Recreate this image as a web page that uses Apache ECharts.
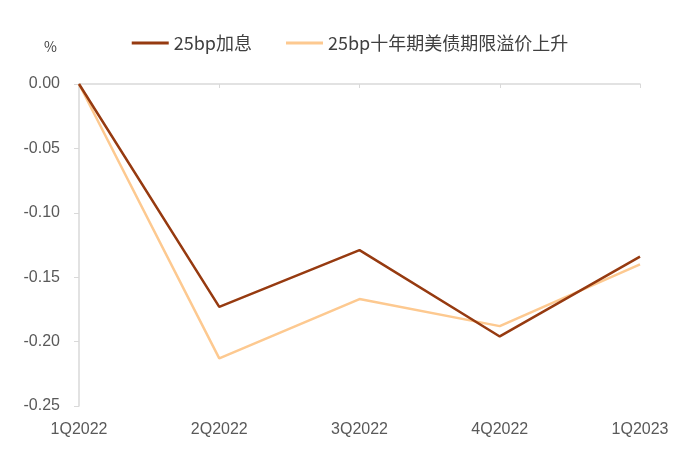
<!DOCTYPE html>
<html><head><meta charset="utf-8">
<script src="https://cdn.jsdelivr.net/npm/echarts@6/dist/echarts.min.js"></script>
<style>html,body{margin:0;padding:0;background:#fff}#c{width:700px;height:471px}</style>
</head><body><div id="c"></div>
<script>
const categories = ['1Q2022','2Q2022','3Q2022','4Q2022','1Q2023'];
const seriesNames = ['25bp加息','25bp十年期美债期限溢价上升'];
const hikeValues = [0, -0.173, -0.129, -0.196, -0.134];
const termPremiumValues = [0, -0.213, -0.167, -0.188, -0.140];

const chart = echarts.init(document.getElementById('c'));
const font = '"Noto Sans CJK SC", "Liberation Sans", Arial, sans-serif';
const latin = '"Liberation Sans", Arial, sans-serif';
chart.setOption({
  animation: false,
  textStyle: { fontFamily: font },
  legend: {
    top: 29, left: 'center',
    itemWidth: 37, itemHeight: 3, itemGap: 34,
    icon: 'rect',
    textStyle: { fontSize: 18, color: '#404040', fontFamily: font },
    data: seriesNames
  },
  grid: { left: 79, right: 60, top: 84, bottom: 65 },
  xAxis: [{
    type: 'category', data: categories, boundaryGap: false,
    axisLine: { onZero: true, lineStyle: { color: '#d9d9d9', width: 1.5 } },
    axisTick: { show: true, alignWithLabel: true, length: 4, lineStyle: { color: '#d9d9d9' } },
    axisLabel: { show: false },
    splitLine: { show: false }
  }, {
    type: 'category', data: categories, boundaryGap: false, position: 'bottom',
    axisLine: { show: false }, axisTick: { show: false },
    axisLabel: { color: '#595959', fontSize: 16, margin: 16, fontFamily: latin }
  }],
  yAxis: {
    type: 'value', min: -0.25, max: 0, interval: 0.05,
    name: '%', nameLocation: 'end', nameGap: 30,
    nameTextStyle: { color: '#404040', fontSize: 14, align: 'right', padding: [0, 22, 0, 0] },
    axisLine: { show: true, lineStyle: { color: '#d9d9d9', width: 1.5 } },
    axisTick: { show: true, length: 5, lineStyle: { color: '#d9d9d9' } },
    axisLabel: { color: '#595959', fontSize: 16, margin: 19, formatter: v => v.toFixed(2), fontFamily: latin },
    splitLine: { show: false }
  },
  series: [{
    name: seriesNames[0], type: 'line', data: hikeValues, xAxisIndex: 0,
    symbol: 'none', lineStyle: { color: '#963a10', width: 2.5 }, itemStyle: { color: '#963a10' }, z: 3
  }, {
    name: seriesNames[1], type: 'line', data: termPremiumValues, xAxisIndex: 0,
    symbol: 'none', lineStyle: { color: '#fdc990', width: 2.5 }, itemStyle: { color: '#fdc990' }, z: 2
  }]
});
</script></body></html>
